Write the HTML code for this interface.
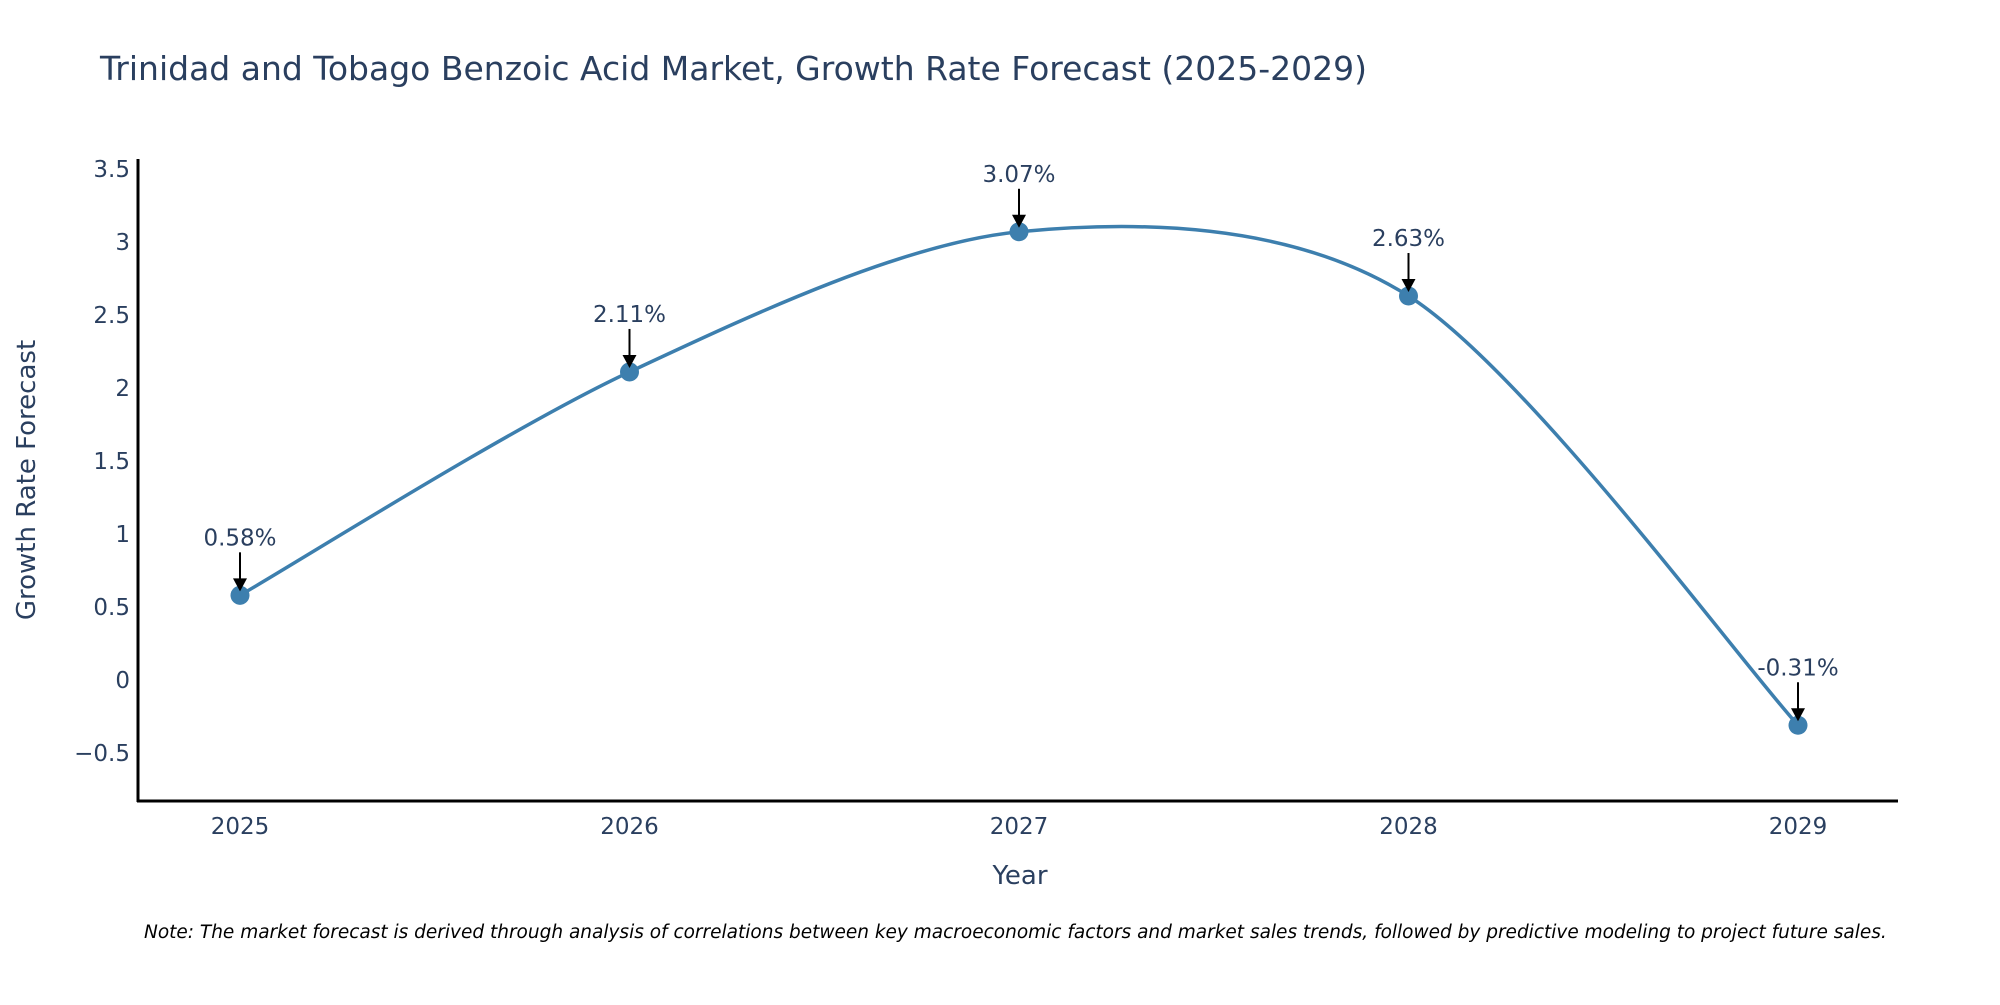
<!DOCTYPE html>
<html><head><meta charset="utf-8"><style>
body{margin:0;background:#fff;}
svg text{font-family:"DejaVu Sans","Liberation Sans",sans-serif;}
</style></head><body>
<svg width="2000" height="1000" viewBox="0 0 2000 1000" xmlns="http://www.w3.org/2000/svg">
<text x="100" y="80" font-size="33" fill="#2a3f5f">Trinidad and Tobago Benzoic Acid Market, Growth Rate Forecast (2025-2029)</text>
<g id="yticks"></g>
<g id="xticks"></g>
<line x1="138" y1="159" x2="138" y2="802" stroke="#000" stroke-width="3"/>
<line x1="137" y1="801" x2="1898" y2="801" stroke="#000" stroke-width="3"/>
<text transform="translate(35,480) rotate(-90)" text-anchor="middle" font-size="26" fill="#2a3f5f">Growth Rate Forecast</text>
<text x="1020" y="884" text-anchor="middle" font-size="26" fill="#2a3f5f">Year</text>
<path id="line" fill="none" stroke="#3d7fae" stroke-width="3.5"/>
<g id="points"></g>
<g id="annots"></g>
<text x="144" y="938" font-size="18.5" font-style="italic" fill="#000">Note: The market forecast is derived through analysis of correlations between key macroeconomic factors and market sales trends, followed by predictive modeling to project future sales.</text>
</svg>
<script>
const years = [2025, 2026, 2027, 2028, 2029];
const growth = [0.58, 2.11, 3.07, 2.63, -0.31];
const valueLabels = ["0.58%", "2.11%", "3.07%", "2.63%", "-0.31%"];
const yTickValues = [-0.5, 0, 0.5, 1, 1.5, 2, 2.5, 3, 3.5];
const yTickLabels = ["\u22120.5", "0", "0.5", "1", "1.5", "2", "2.5", "3", "3.5"];

const NS = "http://www.w3.org/2000/svg";
function xScale(v){ return 240 + (v - 2025) * (1798 - 240) / 4; }
function yScale(v){ return 680 - v * 146; }
function mk(tag, attrs, parent){ const e = document.createElementNS(NS, tag); for (const k in attrs) e.setAttribute(k, attrs[k]); parent.appendChild(e); return e; }

const yt = document.getElementById('yticks');
yTickValues.forEach((v, i) => {
  const t = mk('text', {x: 130, y: yScale(v) + 8, 'text-anchor': 'end', 'font-size': 23, fill: '#2a3f5f'}, yt);
  
  
  t.textContent = yTickLabels[i];
});
const xt = document.getElementById('xticks');
years.forEach(y => {
  const t = mk('text', {x: xScale(y), y: 834, 'text-anchor': 'middle', 'font-size': 23, fill: '#2a3f5f'}, xt);
  
  
  t.textContent = y;
});

const pts = years.map((y, i) => [xScale(y), yScale(growth[i])]);
let d = `M${pts[0][0]},${pts[0][1]}`;
const s = 0.45;
for (let i = 0; i < pts.length - 1; i++) {
  const p0 = pts[Math.max(i - 1, 0)], p1 = pts[i], p2 = pts[i + 1], p3 = pts[Math.min(i + 2, pts.length - 1)];
  const c1 = [p1[0] + (p2[0] - p0[0]) * s / 3, p1[1] + (p2[1] - p0[1]) * s / 3];
  const c2 = [p2[0] - (p3[0] - p1[0]) * s / 3, p2[1] - (p3[1] - p1[1]) * s / 3];
  d += ` C${c1[0]},${c1[1]} ${c2[0]},${c2[1]} ${p2[0]},${p2[1]}`;
}
document.getElementById('line').setAttribute('d', d);

const pg = document.getElementById('points');
const ag = document.getElementById('annots');
pts.forEach((p, i) => {
  const c = mk('circle', {cx: p[0], cy: p[1], r: 9.5, fill: '#3d7fae'}, pg);
  
  
  const l = mk('line', {x1: p[0], y1: p[1] - 43, x2: p[0], y2: p[1] - 14, stroke: '#000', 'stroke-width': 2}, ag);
  
  
  const h = mk('polygon', {points: `${p[0]-7},${p[1]-17} ${p[0]+7},${p[1]-17} ${p[0]},${p[1]-4}`, fill: '#000'}, ag);
  
  
  const t = mk('text', {x: p[0], y: p[1] - 50, 'text-anchor': 'middle', 'font-size': 23, fill: '#2a3f5f'}, ag);
  
  
  t.textContent = valueLabels[i];
});
</script>
</body></html>
